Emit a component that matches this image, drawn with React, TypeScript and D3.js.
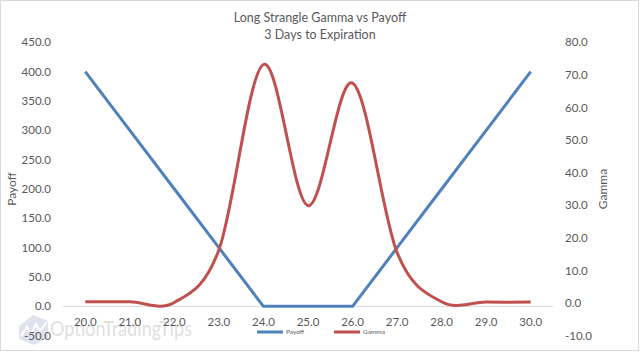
import React from "react";
import * as d3 from "d3";

const categories = ["20.0", "21.0", "22.0", "23.0", "24.0", "25.0", "26.0", "27.0", "28.0", "29.0", "30.0"];
const payoffValues = [400, 300, 200, 100, 0, 0, 0, 100, 200, 300, 400];
const gammaValues = [0.4, 0.4, 0.2, 16.3, 73.2, 29.9, 67.5, 15.5, 0.4, 0.3, 0.3];
const leftTicks = [-50, 0, 50, 100, 150, 200, 250, 300, 350, 400, 450];
const rightTicks = [-10, 0, 10, 20, 30, 40, 50, 60, 70, 80];

const W = 640, H = 352;
const plotLeft = 63, plotRight = 553, plotTop = 42.3, plotBottom = 335.7;
const BLUE = "#4F81BD", RED = "#C0504D", TXT = "#595959";
const FONT = "Lato, 'Open Sans', sans-serif";

export default function App() {
  const x = d3.scalePoint<string>().domain(categories).range([plotLeft, plotRight]).padding(0.5);
  const yL = d3.scaleLinear().domain([-50, 450]).range([plotBottom, plotTop]);
  const yR = d3.scaleLinear().domain([-10, 80]).range([plotBottom, plotTop]);

  const payoffLine = d3.line<number>()
    .x((_, i) => x(categories[i]) as number)
    .y((d) => yL(d));
  const gammaLine = d3.line<number>()
    .x((_, i) => x(categories[i]) as number)
    .y((d) => yR(d))
    .curve(d3.curveCardinal.tension(0));

  return (
    <svg width={W} height={H} style={{ position: "absolute", left: 0, top: 0, background: "#fff" }} fontFamily={FONT}>
      <rect x={0.5} y={0.5} width={638} height={350} fill="#fff" stroke="#d9d9d9" strokeWidth={1} />
      {/* watermark */}
      <g opacity={0.75}>
        <polygon points="19,326 33,315 48,321 48,338 34,345 19,339" fill="#d5d9e6" />
        <polyline points="21,336 27,327 31,334 36,324 40,331 47,322" fill="none" stroke="#ffffff" strokeWidth={2} />
        <text x={50} y={336} fontSize={22} fill="#d6d6d6" textLength={142} lengthAdjust="spacingAndGlyphs">OptionTradingTips</text>
      </g>
      {/* title */}
      <text x={320} y={22} textAnchor="middle" fontSize={12.5} fill={TXT}>Long Strangle Gamma vs Payoff</text>
      <text x={320} y={39} textAnchor="middle" fontSize={12.5} fill={TXT}>3 Days to Expiration</text>
      {/* x axis line */}
      <line x1={plotLeft} x2={plotRight} y1={yL(0)} y2={yL(0)} stroke="#d9d9d9" strokeWidth={1} />
      {/* left ticks */}
      {leftTicks.map((t) => (
        <text key={"l" + t} x={51} y={yL(t)} dy="0.35em" textAnchor="end" fontSize={11.5} fill={TXT}>{t.toFixed(1)}</text>
      ))}
      {/* right ticks */}
      {rightTicks.map((t) => (
        <text key={"r" + t} x={565} y={yR(t)} dy="0.35em" textAnchor="start" fontSize={11.5} fill={TXT}>{t.toFixed(1)}</text>
      ))}
      {/* x ticks */}
      {categories.map((c) => (
        <text key={"x" + c} x={x(c) as number} y={322} dy="0.35em" textAnchor="middle" fontSize={11.5} fill={TXT}>{c}</text>
      ))}
      {/* axis titles */}
      <text transform={`translate(16,${(plotTop + plotBottom) / 2}) rotate(-90)`} textAnchor="middle" fontSize={12} fill={TXT}>Payoff</text>
      <text transform={`translate(607,${(plotTop + plotBottom) / 2}) rotate(-90)`} textAnchor="middle" fontSize={12} fill={TXT}>Gamma</text>
      {/* series */}
      <path d={payoffLine(payoffValues) || ""} fill="none" stroke={BLUE} strokeWidth={3} strokeLinejoin="round" />
      <path d={gammaLine(gammaValues) || ""} fill="none" stroke={RED} strokeWidth={3} strokeLinejoin="round" />
      {/* legend */}
      <line x1={257} x2={283} y1={332} y2={332} stroke={BLUE} strokeWidth={3} />
      <text x={286} y={332} dy="0.35em" fontSize={6.5} fill={TXT}>Payoff</text>
      <line x1={334} x2={360} y1={332} y2={332} stroke={RED} strokeWidth={3} />
      <text x={363} y={332} dy="0.35em" fontSize={6.5} fill={TXT}>Gamma</text>
    </svg>
  );
}
